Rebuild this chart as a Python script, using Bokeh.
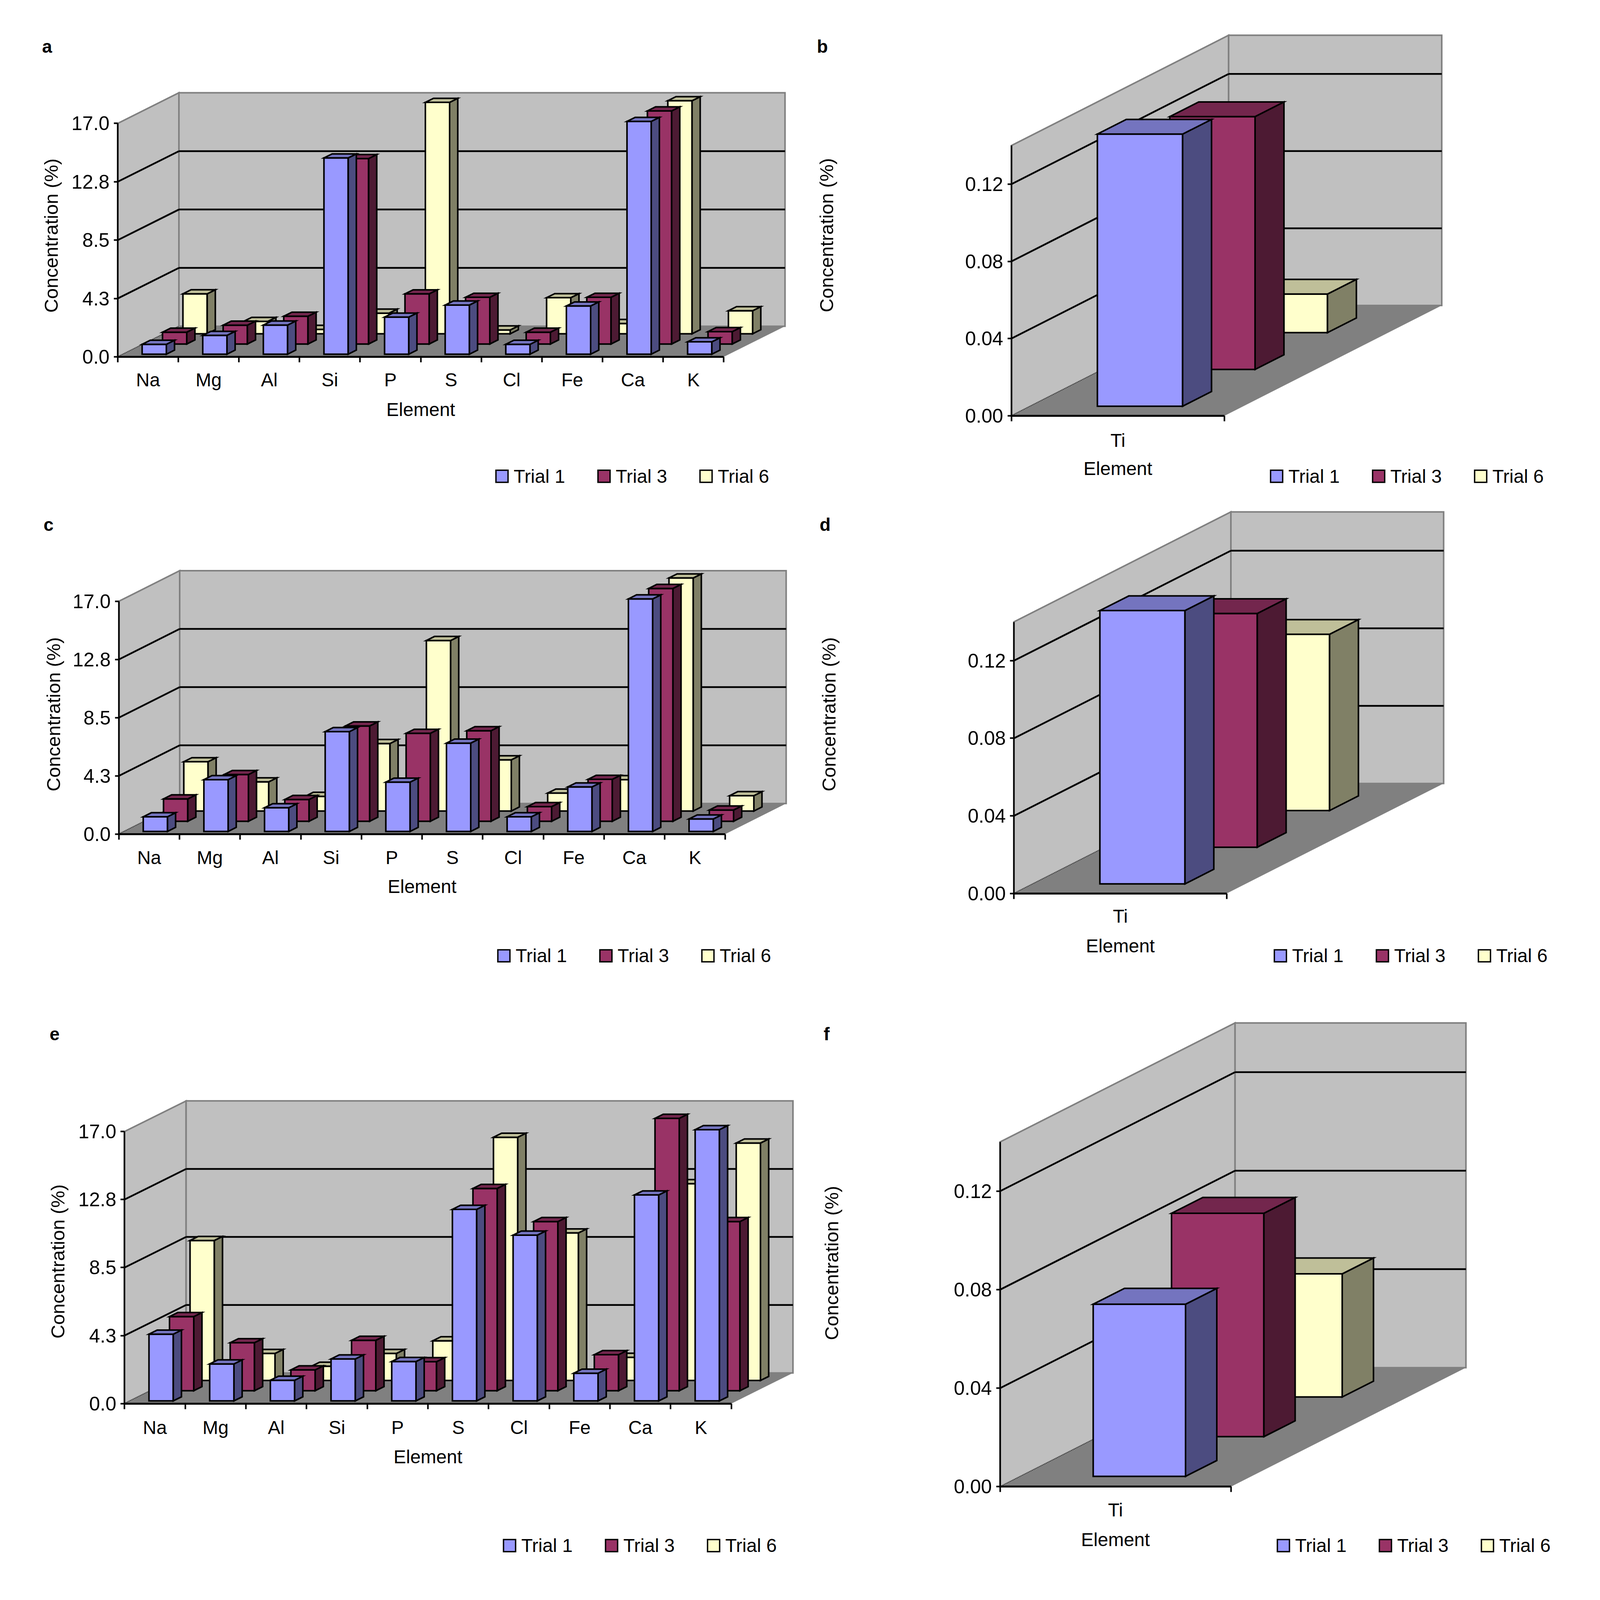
import math
from bokeh.plotting import figure
from bokeh.models import Range1d, FixedTicker
from bokeh.core.properties import value
from bokeh.layouts import row, column
from bokeh.embed import file_html
from bokeh.resources import INLINE

# ------------------------------------------------------------------ data
elements = ["Na", "Mg", "Al", "Si", "P", "S", "Cl", "Fe", "Ca", "K"]
ti_element = ["Ti"]
trial_names = ["Trial 1", "Trial 3", "Trial 6"]

a_trial1 = [0.72, 1.37, 2.12, 14.29, 2.70, 3.58, 0.72, 3.51, 16.95, 0.90]
a_trial3 = [0.86, 1.37, 2.02, 13.50, 3.65, 3.40, 0.86, 3.40, 16.97, 0.90]
a_trial6 = [2.91, 0.90, 0.32, 1.50, 16.85, 0.28, 2.63, 0.75, 16.97, 1.68]

c_trial1 = [1.07, 3.78, 1.73, 7.29, 3.60, 6.45, 1.07, 3.25, 16.98, 0.91]
c_trial3 = [1.63, 3.41, 1.59, 6.96, 6.42, 6.61, 1.07, 3.06, 17.00, 0.82]
c_trial6 = [3.60, 2.13, 1.07, 4.93, 12.45, 3.74, 1.31, 2.29, 17.02, 1.12]

e_trial1 = [4.17, 2.31, 1.29, 2.62, 2.46, 11.97, 10.36, 1.73, 12.87, 16.95]
e_trial3 = [4.63, 3.00, 1.30, 3.15, 1.81, 12.64, 10.57, 2.25, 17.02, 10.57]
e_trial6 = [8.75, 1.69, 0.89, 1.69, 2.48, 15.20, 9.22, 1.45, 12.30, 14.84]

b_trial1 = [0.141]
b_trial3 = [0.131]
b_trial6 = [0.020]

d_trial1 = [0.1409]
d_trial3 = [0.1205]
d_trial6 = [0.0909]

f_trial1 = [0.0699]
f_trial3 = [0.0907]
f_trial6 = [0.0500]

conc_ticks = [0.0, 4.25, 8.5, 12.75, 17.0]
conc_tick_labels = ["0.0", "4.3", "8.5", "12.8", "17.0"]
conc_max = 17.0

ti_ticks = [0.0, 0.04, 0.08, 0.12]
ti_tick_labels = ["0.00", "0.04", "0.08", "0.12"]
ti_max = 0.14

# ------------------------------------------------------------------ style
FONT = "Liberation Sans"
FRONT = ["#9999FF", "#993366", "#FFFFCC"]
SIDE = ["#4C4C80", "#4D1A33", "#808066"]
TOP = ["#7474BF", "#73264D", "#BFBF99"]
WALL = "#C0C0C0"
WALL_EDGE = "#808080"
FLOOR = "#808080"
EDGE_W = 4
GRID_W = 4.5

# bar geometry as fractions of category width / depth
BX0, BX1 = 0.315, 0.715
Z0, ZSTEP, ZD = 0.087, 1.0 / 3.0, 0.133

# layout measured in reference-picture pixels; K maps them to page pixels
K = 1.0 / 1.034
LAY = {
    "a": dict(fig_x=8, fig_y=8, fig_w=2112, fig_h=1312, axis_x=319, axis_y=952,
              cat_w=160.4, ppy=36.35, dx=162, dy=81, letter=(132, 131),
              ylab=(143, 631), cat_y=1017, elem_y=1091, leg=(1320, 1268)),
    "b": dict(fig_x=2120, fig_y=8, fig_w=2112, fig_h=1312, axis_x=2684, axis_y=1108,
              cat_w=564, ppy=5108, dx=575, dy=292, letter=(2184, 131),
              ylab=(2195, 630), cat_y=1178, elem_y=1248, leg=(3370, 1268)),
    "c": dict(fig_x=8, fig_y=1320, fig_w=2112, fig_h=1320, axis_x=322, axis_y=2215,
              cat_w=160.5, ppy=36.24, dx=161, dy=81, letter=(136, 1396),
              ylab=(149, 1898), cat_y=2282, elem_y=2354, leg=(1325, 2537)),
    "d": dict(fig_x=2120, fig_y=1320, fig_w=2112, fig_h=1320, axis_x=2691, axis_y=2372,
              cat_w=563, ppy=5133, dx=574, dy=291, letter=(2191, 1396),
              ylab=(2201, 1898), cat_y=2437, elem_y=2511, leg=(3380, 2537)),
    "e": dict(fig_x=8, fig_y=2640, fig_w=2112, fig_h=1560, axis_x=337, axis_y=3722,
              cat_w=160.6, ppy=42.35, dx=163, dy=81, letter=(152, 2744),
              ylab=(160, 3346), cat_y=3790, elem_y=3863, leg=(1340, 4098)),
    "f": dict(fig_x=2120, fig_y=2640, fig_w=2112, fig_h=1560, axis_x=2654, axis_y=3942,
              cat_w=611, ppy=6517, dx=622, dy=315, letter=(2195, 2744),
              ylab=(2208, 3350), cat_y=4008, elem_y=4082, leg=(3388, 4098)),
}
LEG_STEP = 270
LEG_BOX = 32
LEG_GAP = 15
X_TICK = 14


def build(letter, cats, series, ticks, tick_labels, ymax):
    L = LAY[letter]
    n = len(cats)
    ppx, ppy = L["cat_w"], L["ppy"]
    ax, ay = L["axis_x"], L["axis_y"]
    DX, DY = L["dx"] / ppx, L["dy"] / ppy

    def xd(px):
        return (px - ax) / ppx

    def yd(py):
        return (ay - py) / ppy

    fw = int(round(L["fig_w"] * K))
    fh = int(round(L["fig_h"] * K))
    p = figure(frame_width=fw, frame_height=fh,
               x_range=Range1d(xd(L["fig_x"]), xd(L["fig_x"] + L["fig_w"])),
               y_range=Range1d(yd(L["fig_y"] + L["fig_h"]), yd(L["fig_y"])),
               min_border=0, output_backend="svg", toolbar_location=None, tools="")
    p.min_border_left = 0
    p.min_border_right = 0
    p.min_border_top = 0
    p.min_border_bottom = 0
    p.title.visible = False
    p.title.text_font_size = "0px"
    p.title.standoff = 0
    try:
        p.frame_align = False
    except Exception:
        pass
    p.outline_line_color = None
    p.xgrid.visible = False
    p.ygrid.visible = False
    p.background_fill_color = "white"
    p.border_fill_color = "white"

    # walls
    p.patch([0, DX, DX, 0], [0, DY, ymax + DY, ymax], fill_color=WALL,
            line_color=WALL_EDGE, line_width=4, line_join="miter")
    p.patch([DX, n + DX, n + DX, DX], [DY, DY, ymax + DY, ymax + DY], fill_color=WALL,
            line_color=WALL_EDGE, line_width=4, line_join="miter")
    grid = [t for t in ticks if 0 < t < ymax]
    p.segment(x0=[0] * len(grid), y0=grid, x1=[DX] * len(grid), y1=[g + DY for g in grid],
              line_color="black", line_width=GRID_W)
    p.segment(x0=[DX] * len(grid), y0=[g + DY for g in grid],
              x1=[n + DX] * len(grid), y1=[g + DY for g in grid],
              line_color="black", line_width=GRID_W)
    # floor
    p.patch([0, n, n + DX, DX], [0, 0, DY, DY], fill_color=FLOOR, line_color=None)
    p.line([0, DX], [0, DY], line_color="black", line_width=1.2, line_dash="2 2")

    # bars, back row first
    for i in (2, 1, 0):
        vals = series[i]
        z0 = Z0 + i * ZSTEP
        z1 = z0 + ZD
        lefts = [c + BX0 + z0 * DX for c in range(n)]
        rights = [c + BX1 + z0 * DX for c in range(n)]
        bots = [z0 * DY] * n
        tops = [v + z0 * DY for v in vals]
        p.quad(left=lefts, right=rights, bottom=bots, top=tops,
               fill_color=FRONT[i], line_color="black", line_width=EDGE_W,
               line_join="miter")
        sx, sy, tx, ty = [], [], [], []
        for c, v in enumerate(vals):
            xa_ = c + BX0
            xb_ = c + BX1
            sx.append([xb_ + z0 * DX, xb_ + z1 * DX, xb_ + z1 * DX, xb_ + z0 * DX])
            sy.append([z0 * DY, z1 * DY, v + z1 * DY, v + z0 * DY])
            tx.append([xa_ + z0 * DX, xb_ + z0 * DX, xb_ + z1 * DX, xa_ + z1 * DX])
            ty.append([v + z0 * DY, v + z0 * DY, v + z1 * DY, v + z1 * DY])
        p.patches(sx, sy, fill_color=SIDE[i], line_color="black", line_width=EDGE_W,
                  line_join="miter")
        p.patches(tx, ty, fill_color=TOP[i], line_color="black", line_width=EDGE_W,
                  line_join="miter")

    # x axis (drawn at value 0)
    xa = p.xaxis[0]
    xa.fixed_location = 0
    xa.ticker = FixedTicker(ticks=[c + 0.5 for c in range(n)],
                            minor_ticks=[float(c) for c in range(n + 1)])
    xa.major_label_overrides = {c + 0.5: name for c, name in enumerate(cats)}
    xa.bounds = (0, n)
    xa.axis_line_width = 5
    xa.axis_line_color = "black"
    xa.major_tick_line_color = None
    xa.major_tick_out = 12
    xa.major_tick_in = 0
    xa.minor_tick_line_color = "black"
    xa.minor_tick_line_width = 4
    xa.minor_tick_out = X_TICK
    xa.minor_tick_in = 0
    xa.major_label_standoff = max(2, int(round((L["cat_y"] - ay) * K)) - 45)
    xa.major_label_text_font = FONT
    xa.major_label_text_font_size = "48px"
    xa.major_label_text_color = "black"

    # y axis (drawn at the front-left edge)
    ya = p.yaxis[0]
    ya.fixed_location = 0
    ya.ticker = FixedTicker(ticks=ticks)
    ya.major_label_overrides = dict(zip(ticks, tick_labels))
    ya.bounds = (0, ymax)
    ya.axis_line_width = 4
    ya.axis_line_color = "black"
    ya.major_tick_line_width = 4
    ya.major_tick_out = 10
    ya.major_tick_in = 0
    ya.minor_tick_line_color = None
    ya.major_label_standoff = 11
    ya.major_label_text_font = FONT
    ya.major_label_text_font_size = "50px"
    ya.major_label_text_color = "black"

    # texts
    p.text(x=[xd(L["letter"][0])], y=[yd(L["letter"][1])], text=[letter],
           text_font=value(FONT), text_font_size=value("46px"), text_font_style="bold",
           text_align="center", text_baseline="middle", text_color="black")
    p.text(x=[xd(L["ylab"][0])], y=[yd(L["ylab"][1])], text=["Concentration (%)"],
           angle=math.pi / 2, text_font=value(FONT), text_font_size=value("49px"),
           text_align="center", text_baseline="middle", text_color="black")
    p.text(x=[n / 2.0], y=[yd(L["elem_y"])], text=["Element"],
           text_font=value(FONT), text_font_size=value("48px"),
           text_align="center", text_baseline="middle", text_color="black")

    # legend (swatch + label for each trial)
    lx = [L["leg"][0] + k * LEG_STEP for k in range(3)]
    p.rect(x=[xd(v + LEG_BOX / 2.0) for v in lx], y=[yd(L["leg"][1])] * 3,
           width=LEG_BOX / ppx, height=LEG_BOX / ppy, fill_color=FRONT,
           line_color="black", line_width=3.5, line_join="miter")
    p.text(x=[xd(v + LEG_BOX + LEG_GAP) for v in lx], y=[yd(L["leg"][1])] * 3,
           text=trial_names, text_font=value(FONT), text_font_size=value("48px"),
           text_align="left", text_baseline="middle", text_color="black")
    return p


pa = build("a", elements, [a_trial1, a_trial3, a_trial6], conc_ticks, conc_tick_labels, conc_max)
pb = build("b", ti_element, [b_trial1, b_trial3, b_trial6], ti_ticks, ti_tick_labels, ti_max)
pc = build("c", elements, [c_trial1, c_trial3, c_trial6], conc_ticks, conc_tick_labels, conc_max)
pd = build("d", ti_element, [d_trial1, d_trial3, d_trial6], ti_ticks, ti_tick_labels, ti_max)
pe = build("e", elements, [e_trial1, e_trial3, e_trial6], conc_ticks, conc_tick_labels, conc_max)
pf = build("f", ti_element, [f_trial1, f_trial3, f_trial6], ti_ticks, ti_tick_labels, ti_max)

layout = column(row(pa, pb), row(pc, pd), row(pe, pf))
with open("out.html", "w") as fh_out:
    fh_out.write(file_html(layout, INLINE))
